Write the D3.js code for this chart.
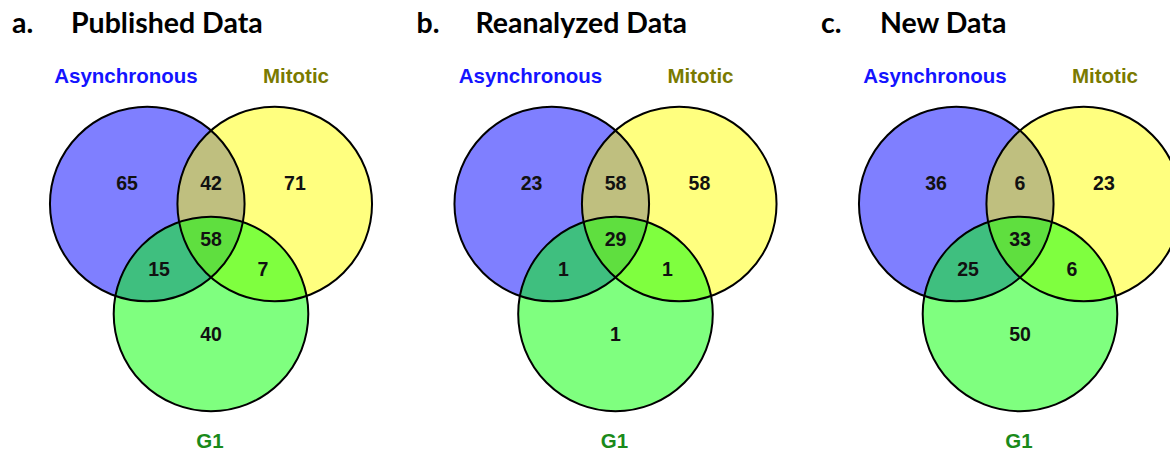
<!DOCTYPE html>
<html>
<head>
<meta charset="utf-8">
<script src="https://cdn.jsdelivr.net/npm/d3@7"></script>
<style>
  html, body { margin: 0; padding: 0; background: #ffffff; }
  svg { display: block; }
</style>
</head>
<body>
<svg id="chart" width="1170" height="451"></svg>
<script>
// Panel headings
const panelLetters = ["a.", "b.", "c."];
const panelTitles = ["Published Data", "Reanalyzed Data", "New Data"];

// Set names and their label colours
const setNames = ["Asynchronous", "Mitotic", "G1"];
const setLabelColors = ["#1414ff", "#7a7a00", "#1a8a1a"];
const setFillColors = ["#0000ff", "#ffff00", "#00ff00"];

// Region keys: A = Asynchronous, M = Mitotic, G = G1
const regionKeys = ["A", "M", "G", "AM", "AG", "MG", "AMG"];
// Counts per region, one array per panel (same order as regionKeys)
const publishedCounts = [65, 71, 40, 42, 15, 7, 58];
const reanalyzedCounts = [23, 58, 1, 58, 1, 1, 29];
const newCounts = [36, 23, 50, 6, 25, 6, 33];
const panelCounts = [publishedCounts, reanalyzedCounts, newCounts];

// Venn geometry in unit space (circle radius = 1)
const circleCenters = [[-0.655, -0.56], [0.655, -0.56], [0, 0.57]];
const regionAnchors = {
  A: [-0.863, -0.776], M: [0.863, -0.776], G: [0, 0.776],
  AM: [0, -0.776], AG: [-0.534, 0.108], MG: [0.534, 0.108], AMG: [0, -0.2]
};

const svg = d3.select("#chart");
const panelWidth = 404.5;
const radiusPx = 97.3;

panelCounts.forEach((counts, p) => {
  const ox = p * panelWidth;
  const x = d3.scaleLinear().domain([-1, 1]).range([ox + 211 - radiusPx, ox + 211 + radiusPx]);
  const y = d3.scaleLinear().domain([-1, 1]).range([258.5 - radiusPx, 258.5 + radiusPx]);
  const g = svg.append("g");

  // heading
  g.append("text")
    .attr("x", ox + 12).attr("y", 33)
    .attr("font-family", "Lato, 'Open Sans', sans-serif")
    .attr("font-weight", 700).attr("font-size", 28.5)
    .attr("fill", "#000").text(panelLetters[p]);
  g.append("text")
    .attr("x", ox + 71).attr("y", 33)
    .attr("font-family", "Lato, 'Open Sans', sans-serif")
    .attr("font-weight", 700).attr("font-size", 28.5)
    .attr("fill", "#000").text(panelTitles[p]);

  // circles (translucent fills stacked to colour the overlaps)
  g.selectAll("circle.set")
    .data(circleCenters)
    .join("circle")
    .attr("class", "set")
    .attr("cx", d => x(d[0])).attr("cy", d => y(d[1]))
    .attr("r", x(1) - x(0))
    .attr("fill", (d, i) => setFillColors[i])
    .attr("fill-opacity", 0.5)
    .attr("stroke", "none");
  g.selectAll("circle.outline")
    .data(circleCenters)
    .join("circle")
    .attr("class", "outline")
    .attr("cx", d => x(d[0])).attr("cy", d => y(d[1]))
    .attr("r", x(1) - x(0))
    .attr("fill", "none")
    .attr("stroke", "#000").attr("stroke-width", 2);

  // region counts
  g.selectAll("text.count")
    .data(regionKeys.map((k, i) => ({ key: k, value: counts[i] })))
    .join("text")
    .attr("class", "count")
    .attr("x", d => x(regionAnchors[d.key][0]))
    .attr("y", d => y(regionAnchors[d.key][1]))
    .attr("dy", "0.36em")
    .attr("text-anchor", "middle")
    .attr("font-family", "'Liberation Sans', Arial, sans-serif")
    .attr("font-weight", 700).attr("font-size", 19.5)
    .attr("fill", "#111").text(d => d.value);

  // set labels
  const labelPos = [[126, 83], [296, 83], [210, 448]];
  g.selectAll("text.setlabel")
    .data(setNames)
    .join("text")
    .attr("class", "setlabel")
    .attr("x", (d, i) => ox + labelPos[i][0])
    .attr("y", (d, i) => labelPos[i][1])
    .attr("text-anchor", "middle")
    .attr("font-family", "'Liberation Sans', Arial, sans-serif")
    .attr("font-weight", 700).attr("font-size", 20.5)
    .attr("fill", (d, i) => setLabelColors[i]).text(d => d);
});
</script>
</body>
</html>
